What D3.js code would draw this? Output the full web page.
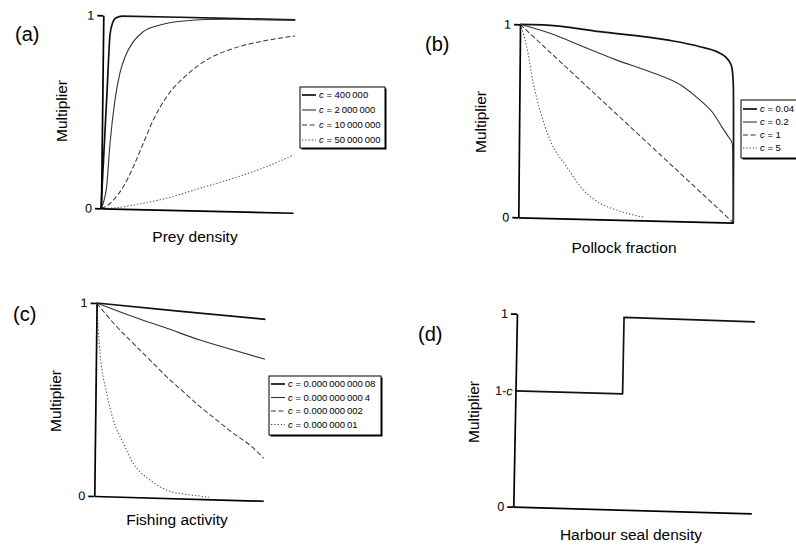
<!DOCTYPE html>
<html><head><meta charset="utf-8">
<script src="https://cdn.jsdelivr.net/npm/d3@7"></script>
<style>
body{margin:0;background:#fff}
svg text{font-family:"Liberation Sans",Arial,Helvetica,sans-serif;fill:#000}
</style></head><body>
<svg id="chart" width="796" height="550"></svg>
<script>
// ---------- data (x as fraction of axis, y = multiplier) ----------
const prey400k = [[0,0],[0.012,0.3],[0.024,0.6],[0.036,0.9],[0.05,0.965],[0.065,0.988],[0.1,0.998],[0.4,0.999],[1,0.999]];
const prey2m   = [[0,0],[0.015,0.04],[0.028,0.113],[0.043,0.338],[0.066,0.563],[0.09,0.702],[0.116,0.788],[0.158,0.867],[0.209,0.92],[0.296,0.957],[0.434,0.982],[0.677,0.995],[1,0.997]];
const prey10m  = [[0,0],[0.03,0.012],[0.064,0.044],[0.115,0.115],[0.166,0.219],[0.216,0.342],[0.267,0.464],[0.335,0.586],[0.438,0.701],[0.541,0.781],[0.679,0.844],[0.818,0.882],[1,0.916]];
const prey50m  = [[0,0],[0.08,0.005],[0.168,0.021],[0.341,0.06],[0.513,0.115],[0.685,0.171],[0.858,0.235],[1,0.30]];
const preyLabels = ["400\u2009000","2\u2009000\u2009000","10\u2009000\u2009000","50\u2009000\u2009000"];

const pollock004 = [[0,1],[0.108,1.0],[0.372,0.972],[0.683,0.938],[0.838,0.907],[0.931,0.876],[0.970,0.842],[0.986,0.808],[0.995,0.7],[0.998,0.4],[1,0]];
const pollock02  = [[0,1],[0.14,0.957],[0.295,0.892],[0.451,0.827],[0.606,0.771],[0.762,0.698],[0.84,0.631],[0.902,0.564],[0.942,0.496],[0.973,0.445],[0.992,0.411],[1,0]];
const pollock1   = [[0,1],[0.5,0.5],[1,0]];
const pollock5   = [[0,1],[0.032,0.885],[0.064,0.696],[0.096,0.559],[0.144,0.405],[0.223,0.268],[0.301,0.15],[0.38,0.083],[0.458,0.05],[0.535,0.027],[0.589,0.016]];
const pollockLabels = ["0.04","0.2","1","5"];

const fish1 = [[0,1],[0.5,0.969],[1,0.94]];
const fish2 = [[0,1],[0.218,0.934],[0.417,0.879],[0.614,0.823],[0.812,0.776],[1,0.733]];
const fish3 = [[0,1],[0.121,0.88],[0.22,0.796],[0.32,0.712],[0.42,0.628],[0.519,0.553],[0.619,0.478],[0.719,0.411],[0.818,0.345],[0.918,0.285],[1,0.22]];
const fish4 = [[0,1],[0.024,0.74],[0.066,0.534],[0.107,0.396],[0.168,0.277],[0.228,0.175],[0.328,0.091],[0.428,0.041],[0.527,0.023],[0.625,0.015],[0.68,0.01]];
const fishLabels = ["0.000\u2009000\u2009000\u200908","0.000\u2009000\u2009000\u20094","0.000\u2009000\u2009002","0.000\u2009000\u200901"];

const seal = [[0,0.6],[0.45,0.6],[0.45,0.997],[1,0.992]];

const yTicksStd = [0,1];
const yTicksSeal = [0,0.6,1];

// ---------- layout / styles ----------
const lineStyles = [
  {w:1.7, dash:null, col:"#111"},
  {w:1.1, dash:null, col:"#333"},
  {w:1.0, dash:"5,2.5", col:"#333"},
  {w:1.0, dash:"1.3,2", col:"#444"}
];
const panels = [
  {tag:"(a)", tagX:15, tagY:41, ox:101, oy:208.3, b:0.023, c:-0.012, w:192, h:193,
   series:[prey400k,prey2m,prey10m,prey50m], ticks:yTicksStd, curve:d3.curveMonotoneX,
   xlab:"Prey density", xlX:195, xlY:242, ylX:67, ylY:111,
   legend:{x:300,y:87,w:85,h:61,row0:95,step:15,labels:preyLabels}},
  {tag:"(b)", tagX:425, tagY:50.5, ox:518.3, oy:217.3, b:0.025, c:-0.009, w:215, h:193,
   series:[pollock004,pollock02,pollock1,pollock5], ticks:yTicksStd, curve:d3.curveMonotoneX,
   xlab:"Pollock fraction", xlX:624, xlY:253, ylX:486, ylY:122,
   legend:{x:741,y:100,w:70,h:58,row0:109,step:13,labels:pollockLabels}},
  {tag:"(c)", tagX:13, tagY:321, ox:94.3, oy:496, b:0.028, c:-0.012, w:169, h:193,
   series:[fish1,fish2,fish3,fish4], ticks:yTicksStd, curve:d3.curveMonotoneX,
   xlab:"Fishing activity", xlX:177, xlY:525, ylX:61, ylY:401,
   legend:{x:269,y:376,w:112,h:59,row0:384,step:13.5,labels:fishLabels}},
  {tag:"(d)", tagX:418, tagY:340.5, ox:513.3, oy:506.7, b:0.028, c:-0.019, w:238, h:193,
   series:[seal], ticks:yTicksSeal, curve:d3.curveLinear,
   xlab:"Harbour seal density", xlX:631, xlY:540, ylX:479, ylY:412, legend:null}
];

const svg = d3.select("#chart");
svg.append("rect").attr("width",796).attr("height",550).attr("fill","#fff");

panels.forEach(p => {
  const g = svg.append("g").attr("transform",`matrix(1,${p.b},${p.c},1,${p.ox},${p.oy})`);
  const x = d3.scaleLinear().domain([0,1]).range([0,p.w]);
  const y = d3.scaleLinear().domain([0,1]).range([0,-p.h]);
  const line = d3.line().x(d=>x(d[0])).y(d=>y(d[1])).curve(p.curve);

  p.series.forEach((s,i) => {
    const st = p.series.length===1 ? lineStyles[0] : lineStyles[i];
    g.append("path").attr("d",line(s)).attr("fill","none")
      .attr("stroke",st.col).attr("stroke-width",st.w)
      .attr("stroke-dasharray",st.dash).attr("stroke-linejoin","round");
  });

  const yAx = g.append("g").call(d3.axisLeft(y).tickValues(p.ticks)
      .tickFormat(d => d===0.6 ? "1-c" : d3.format("d")(d))
      .tickSize(6).tickSizeOuter(0).tickPadding(3));
  const xAx = g.append("g").call(d3.axisBottom(x).tickValues([]).tickSizeOuter(0));
  [yAx,xAx].forEach(a => {
    a.select(".domain").attr("stroke","#000").attr("stroke-width",1.7);
    a.selectAll(".tick line").attr("stroke","#000").attr("stroke-width",1.7);
    a.selectAll("text").attr("font-size",12.5).attr("font-family",null);
  });
  yAx.selectAll(".tick").filter(d=>d===0.6).each(function(){
    const t = d3.select(this);
    t.select("line").remove();
    const txt = t.select("text").attr("x",-3).text("1-");
    txt.append("tspan").attr("font-style","italic").text("c");
  });

  svg.append("text").attr("x",p.tagX).attr("y",p.tagY).attr("font-size",20).text(p.tag);
  svg.append("text").attr("x",p.xlX).attr("y",p.xlY).attr("font-size",15.5)
     .attr("text-anchor","middle").text(p.xlab);
  svg.append("text").attr("transform",`translate(${p.ylX},${p.ylY}) rotate(-90)`)
     .attr("font-size",15.5).attr("text-anchor","middle").text("Multiplier");

  if (p.legend) {
    const L = p.legend;
    svg.append("rect").attr("x",L.x+1.5).attr("y",L.y+1.5).attr("width",L.w).attr("height",L.h).attr("fill","#000");
    svg.append("rect").attr("x",L.x).attr("y",L.y).attr("width",L.w).attr("height",L.h)
       .attr("fill","#fff").attr("stroke","#000").attr("stroke-width",1);
    L.labels.forEach((lab,i) => {
      const st = lineStyles[i];
      const yy = L.row0 + i*L.step;
      svg.append("line").attr("x1",L.x+2).attr("x2",L.x+16).attr("y1",yy).attr("y2",yy)
         .attr("stroke",st.col).attr("stroke-width",st.w).attr("stroke-dasharray",st.dash);
      const t = svg.append("text").attr("x",L.x+19).attr("y",yy).attr("dy","0.35em").attr("font-size",9.5);
      t.append("tspan").attr("font-style","italic").text("c");
      t.append("tspan").text(" = " + lab);
    });
  }
});
</script></body></html>
